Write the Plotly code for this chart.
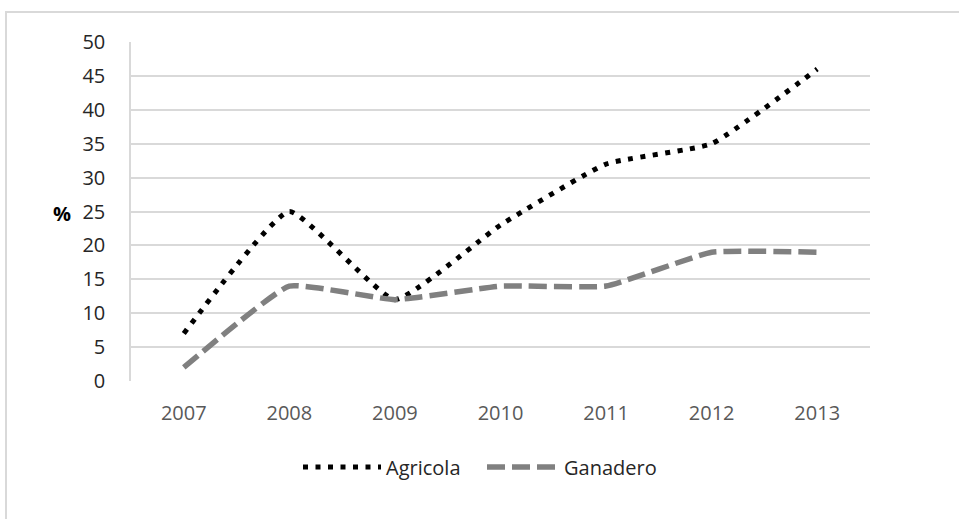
import plotly.graph_objects as go

years = ["2007", "2008", "2009", "2010", "2011", "2012", "2013"]
agricola = [7, 25, 12, 23, 32, 35, 46]
ganadero = [2, 14, 12, 14, 14, 19, 19]
y_ticks = [0, 5, 10, 15, 20, 25, 30, 35, 40, 45, 50]
series_names = ["Agricola", "Ganadero"]

FONT = "Open Sans"
W, H = 959, 519
L, R, T, B = 131, 89, 42, 138
pw, ph = W - L - R, H - T - B

AGR_LINE = dict(color="#000000", width=5, dash="5px,7.5px")
GAN_LINE = dict(color="#808080", width=5.5, dash="18px,7px")


def px(x):
    return (x - L) / pw


def py(y):
    return (T + ph - y) / ph


fig = go.Figure()
fig.add_trace(go.Scatter(
    x=years, y=agricola, name=series_names[0], mode="lines",
    line=dict(**AGR_LINE, shape="spline", smoothing=0.4),
))
fig.add_trace(go.Scatter(
    x=years, y=ganadero, name=series_names[1], mode="lines",
    line=dict(**GAN_LINE, shape="spline", smoothing=0.35),
))

# legend drawn by hand so the samples can be as long as the labels need
legend_y = py(467)
shapes = [
    dict(type="line", xref="paper", yref="paper", x0=px(303), x1=px(381),
         y0=legend_y, y1=legend_y, line=AGR_LINE),
    dict(type="line", xref="paper", yref="paper", x0=px(487), x1=px(557),
         y0=legend_y, y1=legend_y, line=GAN_LINE),
    dict(type="rect", xref="paper", yref="paper",
         x0=px(6), y0=py(540), x1=px(980), y1=py(12),
         line=dict(color="#d9d9d9", width=2), fillcolor="rgba(0,0,0,0)", layer="below"),
]
annotations = [
    dict(text="<b>%</b>", x=px(73), y=py(213), xref="paper", yref="paper",
         xanchor="right", showarrow=False,
         font=dict(size=20, color="#000000", family=FONT)),
    dict(text=series_names[0], x=px(384), y=legend_y, xref="paper", yref="paper",
         xanchor="left", yanchor="middle", showarrow=False,
         font=dict(size=20, color="#262626", family=FONT)),
    dict(text=series_names[1], x=px(562), y=legend_y, xref="paper", yref="paper",
         xanchor="left", yanchor="middle", showarrow=False,
         font=dict(size=20, color="#262626", family=FONT)),
]

fig.update_layout(
    width=W, height=H,
    margin=dict(l=L, r=R, t=T, b=B, pad=0),
    paper_bgcolor="white", plot_bgcolor="white",
    font=dict(family=FONT, color="#404040"),
    showlegend=False,
    xaxis=dict(
        type="category", range=[-0.5, 6.5], showgrid=False, zeroline=False,
        showline=False, ticks="",
        tickfont=dict(size=20, color="#595959", family=FONT),
        ticklabelstandoff=18,
    ),
    yaxis=dict(
        range=[0, 50], tickvals=y_ticks, showgrid=True, gridcolor="#d9d9d9",
        gridwidth=1.5, zeroline=False, showline=True, linecolor="#d9d9d9",
        linewidth=1.5, ticks="",
        tickfont=dict(size=20, color="#262626", family=FONT),
        ticklabelstandoff=20,
    ),
    annotations=annotations,
    shapes=shapes,
)

fig.write_html("out.html")
